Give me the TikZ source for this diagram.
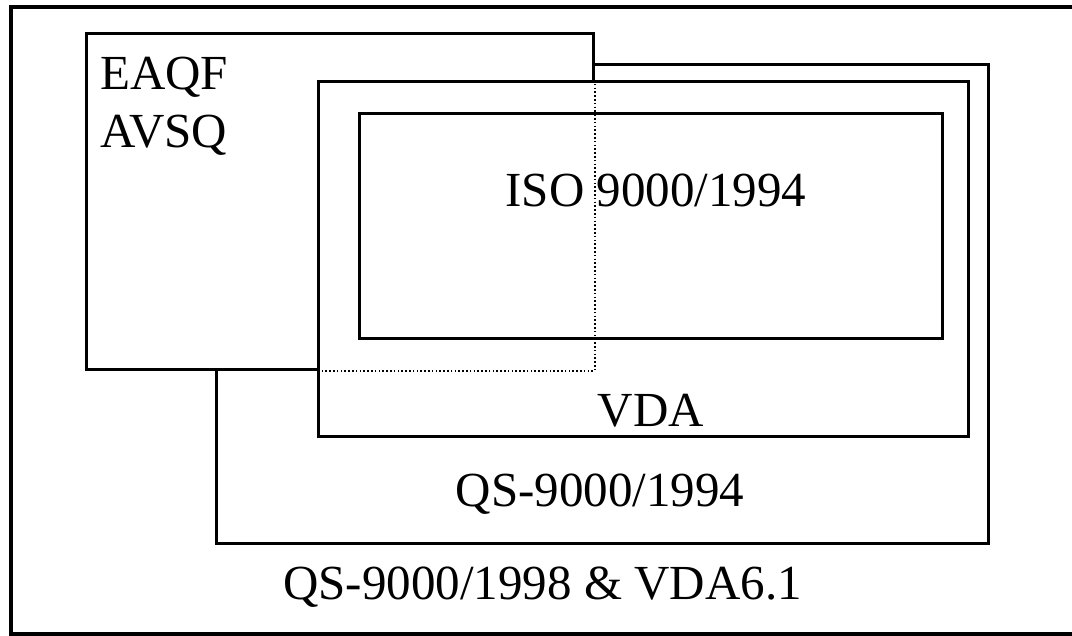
\documentclass[tikz,border=0pt]{standalone}
\usepackage{fontspec}
\setmainfont{Liberation Serif}
\begin{document}
\begin{tikzpicture}[x=1pt,y=-1pt,
  frame/.style={line width=3.2pt},
  box/.style={draw, line width=2.8pt, inner sep=0pt, anchor=north west},
  hidden/.style={line width=2pt, dash pattern=on 1.6pt off 2.2pt},
  lbl/.style={inner sep=0pt, font=\fontsize{49}{58}\selectfont}]
\useasboundingbox (0,0) rectangle (1072,636);
% outer frame (right side lies beyond the picture)
\draw[frame] (1072,7) -- (11,7) -- (11,634) -- (1072,634);
% QS-9000/1994 box
\node[box, minimum width=772pt, minimum height=479pt] (qs) at (215,63) {};
% EAQF / AVSQ box (opaque)
\node[box, fill=white, minimum width=507pt, minimum height=336pt] (eaqf) at (85,32) {};
% VDA box
\node[box, fill=white, minimum width=650pt, minimum height=355pt] (vda) at (317,80) {};
% ISO box
\node[box, minimum width=583pt, minimum height=225pt] (iso) at (358,112) {};
% hidden edges of EAQF box
\coordinate (hA) at (eaqf.north east |- vda.north);
\coordinate (hB) at (vda.west |- eaqf.south);
\draw[hidden] (hA) -- (eaqf.south east) -- (hB);
% texts
\node[lbl, anchor=north west, align=left] (teaqf) at (100,57) {EAQF\\AVSQ};
\node[lbl, anchor=base] (tiso) at (656,207) {ISO 9000/1994};
\node[lbl, anchor=base] (tvda) at (651,427) {VDA};
\node[lbl, anchor=base] (tqs) at (600,507) {QS-9000/1994};
\node[lbl, anchor=base west] (tqs98) at (283,599) {QS-9000/1998 \& VDA6.1};
\end{tikzpicture}
\end{document}
